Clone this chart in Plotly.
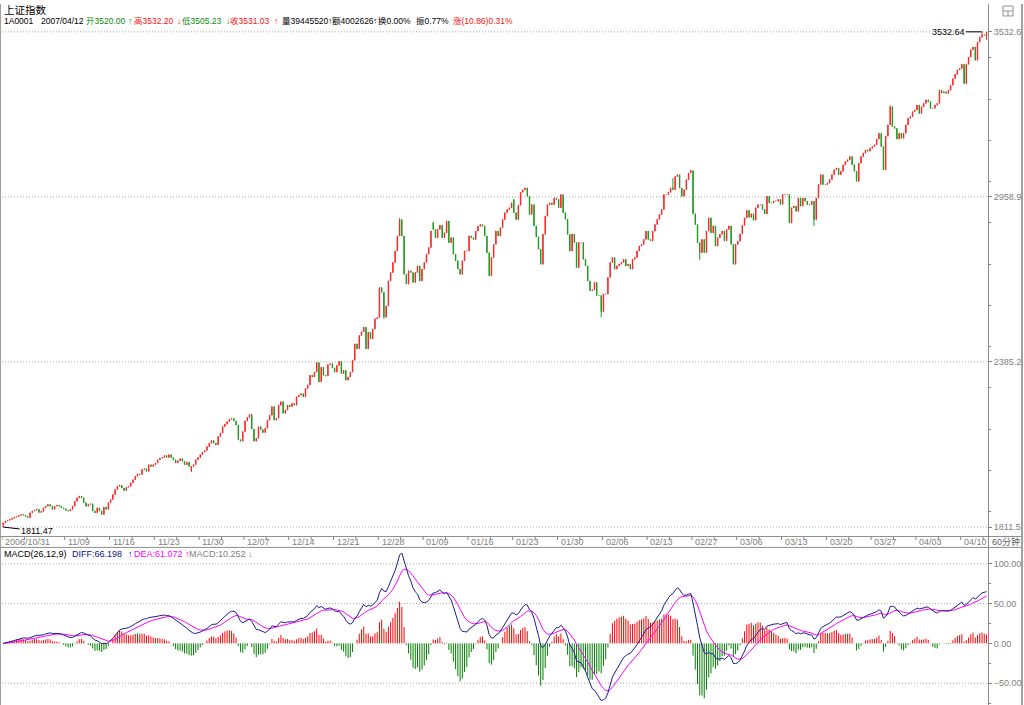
import numpy as np
import plotly.graph_objects as go

# ---------------- data (60-minute bars, 4 per trading day) ----------------
bars_per_day = 4
date_labels = ["2006/10/31", "11/09", "11/16", "11/23", "11/30", "12/07", "12/14",
               "12/21", "12/28", "01/09", "01/16", "01/23", "01/30", "02/06", "02/13",
               "02/27", "03/06", "03/13", "03/20", "03/27", "04/03", "04/10"]
date_label_day = [0, 7, 12, 17, 22, 27, 32, 37, 42, 47, 52, 57, 62, 67, 72, 77, 82,
                  87, 92, 97, 102, 107]

close_px = [
    1826, 1832, 1835, 1838, 1842, 1846, 1848, 1852, 1855, 1853, 1848, 1844,
    1861, 1867, 1870, 1873, 1862, 1866, 1878, 1884, 1890, 1884, 1873, 1884,
    1887, 1884, 1878, 1875, 1869, 1867, 1873, 1884, 1901, 1913, 1919, 1913,
    1896, 1884, 1890, 1892, 1867, 1861, 1878, 1867, 1855, 1881, 1873, 1896,
    1907, 1924, 1942, 1953, 1957, 1947, 1938, 1950, 1953, 1965, 1976, 1988,
    1996, 1994, 2011, 2014, 2005, 2028, 2022, 2028, 2034, 2045, 2051, 2053,
    2060, 2053, 2063, 2053, 2045, 2034, 2042, 2049, 2040, 2028, 2037, 2022,
    2022, 2028, 2045, 2053, 2063, 2072, 2078, 2091, 2103, 2112, 2103, 2097,
    2126, 2138, 2161, 2169, 2178, 2186, 2189, 2180, 2166, 2115, 2110, 2143,
    2180, 2192, 2203, 2152, 2110, 2120, 2160, 2150, 2140, 2155, 2183, 2200,
    2230, 2183, 2190, 2235, 2247, 2207, 2218, 2235, 2230, 2241, 2235, 2264,
    2270, 2275, 2264, 2293, 2305, 2339, 2333, 2350, 2383, 2316, 2367, 2339,
    2337, 2376, 2379, 2364, 2350, 2373, 2387, 2345, 2356, 2322, 2333, 2350,
    2391, 2448, 2431, 2477, 2490, 2506, 2431, 2489, 2466, 2500, 2535, 2540,
    2644, 2627, 2541, 2580, 2667, 2696, 2731, 2771, 2823, 2880, 2823, 2690,
    2656, 2702, 2696, 2662, 2696, 2719, 2667, 2708, 2731, 2760, 2783, 2840,
    2846, 2817, 2846, 2860, 2817, 2834, 2875, 2800, 2817, 2760, 2737, 2708,
    2690, 2737, 2771, 2771, 2823, 2817, 2811, 2840, 2857, 2863, 2857, 2823,
    2765, 2685, 2748, 2794, 2840, 2823, 2852, 2880, 2904, 2915, 2921, 2938,
    2904, 2880, 2930, 2975, 2984, 2990, 2961, 2898, 2932, 2858, 2820, 2777,
    2725, 2829, 2892, 2932, 2938, 2932, 2955, 2950, 2921, 2967, 2904, 2881,
    2829, 2771, 2830, 2800, 2713, 2800, 2800, 2742, 2719, 2667, 2633, 2636,
    2662, 2616, 2616, 2560, 2621, 2621, 2679, 2731, 2748, 2708, 2719, 2725,
    2731, 2742, 2719, 2725, 2708, 2742, 2748, 2771, 2788, 2794, 2811, 2840,
    2811, 2806, 2840, 2863, 2881, 2898, 2915, 2967, 2967, 2975, 2990, 2984,
    3030, 3036, 2990, 2961, 2984, 3019, 3042, 3050, 2900, 2863, 2800, 2765,
    2811, 2765, 2840, 2886, 2834, 2858, 2788, 2817, 2829, 2840, 2806, 2846,
    2858, 2794, 2725, 2794, 2805, 2830, 2860, 2886, 2912, 2888, 2900, 2878,
    2921, 2932, 2932, 2915, 2900, 2961, 2938, 2938, 2944, 2944, 2950, 2933,
    2967, 2967, 2967, 2869, 2921, 2927, 2909, 2955, 2927, 2955, 2944, 2932,
    2932, 2944, 2880, 2955, 3002, 3036, 3002, 3002, 3007, 3019, 3036, 3053,
    3059, 3036, 3048, 3070, 3082, 3088, 3099, 3071, 3048, 3013, 3076, 3099,
    3111, 3122, 3118, 3128, 3134, 3140, 3160, 3180, 3134, 3053, 3170, 3209,
    3272, 3203, 3197, 3160, 3180, 3163, 3180, 3209, 3232, 3238, 3255, 3261,
    3278, 3249, 3272, 3284, 3296, 3290, 3267, 3267, 3278, 3284, 3330, 3320,
    3324, 3319, 3330, 3347, 3370, 3385, 3400, 3405, 3420, 3353, 3420, 3445,
    3470, 3480, 3434, 3497, 3514, 3522, 3520, 3531.03,
]

open_px = [
    1820, 1826, 1832, 1835, 1838, 1842, 1846, 1848, 1852, 1855, 1853, 1848,
    1844, 1861, 1867, 1870, 1873, 1862, 1866, 1878, 1884, 1890, 1884, 1873,
    1884, 1887, 1884, 1878, 1875, 1869, 1867, 1873, 1884, 1901, 1913, 1919,
    1913, 1896, 1884, 1890, 1892, 1867, 1861, 1878, 1867, 1855, 1881, 1873,
    1896, 1907, 1924, 1942, 1953, 1957, 1947, 1938, 1950, 1953, 1965, 1976,
    1988, 1996, 1994, 2011, 2014, 2005, 2028, 2022, 2028, 2034, 2045, 2051,
    2053, 2060, 2053, 2063, 2053, 2045, 2034, 2042, 2049, 2040, 2028, 2037,
    2005, 2022, 2028, 2045, 2053, 2063, 2072, 2078, 2091, 2103, 2112, 2103,
    2097, 2126, 2138, 2161, 2169, 2178, 2186, 2189, 2180, 2166, 2115, 2110,
    2143, 2180, 2192, 2203, 2152, 2110, 2120, 2160, 2150, 2140, 2155, 2183,
    2200, 2230, 2183, 2190, 2235, 2247, 2207, 2218, 2235, 2230, 2241, 2235,
    2264, 2270, 2275, 2264, 2293, 2305, 2339, 2333, 2350, 2383, 2316, 2367,
    2339, 2337, 2376, 2379, 2364, 2350, 2373, 2387, 2345, 2356, 2322, 2333,
    2350, 2391, 2448, 2431, 2477, 2490, 2506, 2431, 2489, 2466, 2500, 2535,
    2540, 2644, 2627, 2541, 2580, 2667, 2696, 2731, 2771, 2823, 2880, 2823,
    2690, 2656, 2702, 2696, 2662, 2696, 2719, 2667, 2708, 2731, 2760, 2783,
    2870, 2846, 2817, 2846, 2860, 2817, 2834, 2875, 2800, 2817, 2760, 2737,
    2708, 2690, 2737, 2771, 2771, 2823, 2817, 2811, 2840, 2857, 2863, 2857,
    2823, 2765, 2685, 2748, 2794, 2840, 2823, 2852, 2880, 2904, 2915, 2921,
    2950, 2904, 2880, 2930, 2975, 2984, 2990, 2961, 2898, 2932, 2858, 2820,
    2777, 2725, 2829, 2892, 2932, 2938, 2932, 2955, 2950, 2921, 2967, 2904,
    2881, 2829, 2771, 2830, 2800, 2713, 2800, 2800, 2742, 2719, 2667, 2633,
    2636, 2662, 2616, 2616, 2560, 2621, 2621, 2679, 2731, 2748, 2708, 2719,
    2725, 2731, 2742, 2719, 2725, 2708, 2742, 2748, 2771, 2788, 2794, 2811,
    2840, 2811, 2806, 2840, 2863, 2881, 2898, 2915, 2967, 2967, 2975, 2990,
    2984, 3030, 3036, 2990, 2961, 2984, 3019, 3042, 3050, 2900, 2863, 2800,
    2765, 2811, 2765, 2840, 2886, 2834, 2858, 2788, 2817, 2829, 2840, 2806,
    2846, 2858, 2794, 2725, 2794, 2805, 2830, 2860, 2886, 2912, 2888, 2900,
    2878, 2921, 2932, 2932, 2915, 2900, 2961, 2938, 2938, 2944, 2944, 2950,
    2933, 2967, 2967, 2967, 2869, 2921, 2927, 2909, 2955, 2927, 2955, 2944,
    2932, 2932, 2944, 2880, 2955, 3002, 3036, 3002, 3002, 3007, 3019, 3036,
    3053, 3059, 3036, 3048, 3070, 3082, 3088, 3099, 3071, 3048, 3013, 3076,
    3099, 3111, 3122, 3118, 3128, 3134, 3140, 3160, 3180, 3134, 3053, 3170,
    3209, 3272, 3203, 3197, 3160, 3180, 3163, 3180, 3209, 3232, 3238, 3255,
    3261, 3278, 3249, 3272, 3284, 3296, 3290, 3267, 3267, 3278, 3284, 3330,
    3320, 3324, 3319, 3330, 3347, 3370, 3385, 3400, 3405, 3420, 3353, 3420,
    3445, 3470, 3480, 3434, 3497, 3514, 3522, 3520.00,
]

# extreme highs / lows (wick ends)
high_marks = {177: 2885, 299: 3024, 307: 3053, 396: 3277, 437: 3532.64, 439: 3532.20}
low_marks = {0: 1811.47, 170: 2535, 267: 2541, 311: 2740, 362: 2858, 439: 3505.23}

price_ticks = [1811.5, 2385.2, 2958.9, 3532.6]
macd_ticks = [-50, 0, 50, 100]
macd_grid = [-50, 50, 100]
macd_fast, macd_slow, macd_sig = 12, 26, 9

# ---------------- derived ----------------
n = len(close_px)
idx = np.arange(n)
o = np.array(open_px, float)
c = np.array(close_px, float)
hi = np.maximum(o, c)
lo = np.minimum(o, c)
for k, v in high_marks.items():
    hi[k] = v
for k, v in low_marks.items():
    lo[k] = v


def ema(x, span):
    a = 2.0 / (span + 1)
    out = np.empty_like(x)
    out[0] = x[0]
    for i in range(1, len(x)):
        out[i] = a * x[i] + (1 - a) * out[i - 1]
    return out


diff = ema(c, macd_fast) - ema(c, macd_slow)
dea = ema(diff, macd_sig)
hist = 2 * (diff - dea)

# ---------------- geometry (pixels) ----------------
W, H = 1024, 705
PX_L, PX_R = 2, 988
MAIN_TOP, MAIN_BOT = 27, 534
MACD_TOP, MACD_BOT = 547, 705


def py(p):
    return 1 - p / H


def px(p):
    return p / W


price_per_px = (price_ticks[-1] - price_ticks[0]) / (526 - 28)
main_range = [price_ticks[0] - (MAIN_BOT - 526) * price_per_px,
              price_ticks[-1] + (28 - MAIN_TOP) * price_per_px]
macd_per_px = 100 / (643 - 563)
macd_range = [-(MACD_BOT - 643) * macd_per_px, (643 - MACD_TOP) * macd_per_px]
bar_px = 2.24
x_range = [-0.5, -0.5 + (PX_R - PX_L) / bar_px]

RED = "#ff2424"
GREEN = "#209a20"
GRAY = "#808080"
NUMFONT = "Liberation Sans, Noto Sans CJK SC"

fig = go.Figure()

fig.add_trace(go.Candlestick(
    x=idx, open=o, high=hi, low=lo, close=c,
    increasing=dict(line=dict(color=RED, width=1), fillcolor=RED),
    decreasing=dict(line=dict(color=GREEN, width=1), fillcolor=GREEN),
    whiskerwidth=0, hoverinfo="skip", xaxis="x", yaxis="y", showlegend=False))

# MACD histogram as thin sticks
def sticks(mask):
    xs, ys = [], []
    for i in idx[mask]:
        xs += [i, i, None]
        ys += [0, hist[i], None]
    return xs, ys

xs, ys = sticks(hist >= 0)
fig.add_trace(go.Scatter(x=xs, y=ys, mode="lines", line=dict(color="#ff0000", width=1),
                         xaxis="x2", yaxis="y2", hoverinfo="skip", showlegend=False))
xs, ys = sticks(hist < 0)
fig.add_trace(go.Scatter(x=xs, y=ys, mode="lines", line=dict(color="#008000", width=1),
                         xaxis="x2", yaxis="y2", hoverinfo="skip", showlegend=False))
fig.add_trace(go.Scatter(x=idx, y=dea, mode="lines", line=dict(color="#ff00ff", width=1),
                         xaxis="x2", yaxis="y2", hoverinfo="skip", showlegend=False))
fig.add_trace(go.Scatter(x=idx, y=diff, mode="lines", line=dict(color="#1c1c8c", width=1),
                         xaxis="x2", yaxis="y2", hoverinfo="skip", showlegend=False))

axis_common = dict(showgrid=False, zeroline=False, fixedrange=True)
fig.update_layout(
    width=W, height=H, autosize=False,
    margin=dict(l=0, r=0, t=0, b=0),
    paper_bgcolor="white", plot_bgcolor="white",
    showlegend=False, boxgap=0.72,
    xaxis=dict(domain=[px(PX_L), px(PX_R)], range=x_range, showticklabels=False,
               ticks="", rangeslider=dict(visible=False), anchor="y", **axis_common),
    yaxis=dict(domain=[py(MAIN_BOT), py(MAIN_TOP)], range=main_range, side="right",
               tickmode="linear", tick0=price_ticks[0], dtick=price_ticks[1] - price_ticks[0],
               tickformat=".1f", ticks="outside", ticklen=3, tickcolor=GRAY,
               minor=dict(dtick=(price_ticks[1] - price_ticks[0]) / 4, ticks="outside",
                          ticklen=2, tickcolor=GRAY),
               tickfont=dict(family=NUMFONT, size=9, color=GRAY), anchor="x", **axis_common),
    xaxis2=dict(domain=[px(PX_L), px(PX_R)], range=x_range, showticklabels=False,
                ticks="", anchor="y2", **axis_common),
    yaxis2=dict(domain=[0, py(MACD_TOP)], range=macd_range, side="right",
                tickmode="array", tickvals=macd_ticks, tickformat=".2f",
                ticks="outside", ticklen=3, tickcolor=GRAY,
                minor=dict(dtick=25, ticks="outside", ticklen=2, tickcolor=GRAY),
                tickfont=dict(family=NUMFONT, size=9, color=GRAY), anchor="x2", **axis_common),
)

shapes = []
dot = "1px,2px"
for t in price_ticks:
    shapes.append(dict(type="line", xref="x", yref="y", x0=x_range[0], x1=x_range[1],
                       y0=t, y1=t, line=dict(color="#a8a8a8", width=1, dash=dot), layer="below"))
for t in macd_grid:
    shapes.append(dict(type="line", xref="x2", yref="y2", x0=x_range[0], x1=x_range[1],
                       y0=t, y1=t, line=dict(color="#a8a8a8", width=1, dash=dot), layer="below"))
# frame lines
frame = "#8c8c8c"
shapes += [
    dict(type="line", xref="paper", yref="paper", x0=px(988.5), x1=px(988.5), y0=0, y1=1,
         line=dict(color=frame, width=1)),
    dict(type="line", xref="paper", yref="paper", x0=px(0.5), x1=px(0.5), y0=0, y1=1,
         line=dict(color="#a0a0a0", width=1)),
    dict(type="line", xref="paper", yref="paper", x0=px(1022), x1=px(1022), y0=0, y1=1,
         line=dict(color="#a0a0a0", width=2)),
    dict(type="line", xref="paper", yref="paper", x0=0, x1=px(1021), y0=py(535.5), y1=py(535.5),
         line=dict(color=frame, width=1)),
    dict(type="line", xref="paper", yref="paper", x0=0, x1=px(1021), y0=py(546.5), y1=py(546.5),
         line=dict(color=frame, width=1)),
    # small window icon top-right
    dict(type="rect", xref="paper", yref="paper", x0=px(1003), x1=px(1013), y0=py(12), y1=py(2),
         line=dict(color="#909090", width=1), fillcolor="white"),
    dict(type="line", xref="paper", yref="paper", x0=px(1003), x1=px(1013), y0=py(7), y1=py(7),
         line=dict(color="#909090", width=1)),
    dict(type="line", xref="paper", yref="paper", x0=px(1008), x1=px(1008), y0=py(12), y1=py(7),
         line=dict(color="#909090", width=1)),
]
# date strip tick marks
for d in date_label_day:
    xb = d * bars_per_day - 0.5
    for off in (0, 2.5 * bars_per_day):
        shapes.append(dict(type="line", xref="x", yref="paper", x0=xb + off, x1=xb + off,
                           y0=py(539), y1=py(536), line=dict(color=GRAY, width=1)))
fig.update_layout(shapes=shapes)

ann = []


def text(s, x, y, color="black", size=9, family=NUMFONT, anchor="left"):
    ann.append(dict(text=s, x=px(x), y=py(y), xref="paper", yref="paper", xanchor=anchor,
                    yanchor="middle", showarrow=False,
                    font=dict(family=family, size=size, color=color)))


text("上证指数", 2, 6, size=10.5, family="Noto Sans CJK SC")
hdr_green, hdr_red = "#0a8a0a", "#ff1010"
header = [("1A0001", 2, "black"), ("2007/04/12", 39, "black"),
          ("开3520.00", 84, hdr_green), ("↑", 126, hdr_green),
          ("高3532.20", 132, hdr_red), ("↓", 175, hdr_red),
          ("低3505.23", 180, hdr_green), ("↓", 224, hdr_green),
          ("收3531.03", 228, hdr_red), ("↑", 272, hdr_red),
          ("量39445520", 280, "black"), ("↑", 326, "black"),
          ("额4002626", 330, "black"), ("↑", 371, "black"),
          ("换0.00%", 376, "black"), ("振0.77%", 414, "black"),
          ("涨(10.86)0.31%", 451, hdr_red)]
for s, x, col in header:
    text(s, x, 17.5, color=col, size=8.5)

macd_hdr = [("MACD(26,12,9)", 2, "black"), ("DIFF:66.198", 70, "#10108a"), ("↑", 126, "#10108a"),
            ("DEA:61.072", 132, "#ff00ff"), ("↑", 183, "#ff00ff"),
            ("MACD:10.252", 187, GRAY), ("↓", 246, GRAY)]
for s, x, col in macd_hdr:
    text(s, x, 553, color=col, size=9)

for lab, d in zip(date_labels, date_label_day):
    ann.append(dict(text=lab, x=d * bars_per_day - 0.5 + 0.6, y=py(541), xref="x", yref="paper",
                    xanchor="left", yanchor="middle", showarrow=False,
                    font=dict(family=NUMFONT, size=9, color=GRAY)))
text("60分钟", 990, 541, color="#606060", size=9)

# extreme markers
ann.append(dict(text="1811.47", x=0, y=low_marks[0], xref="x", yref="y", showarrow=True,
                arrowhead=0, arrowwidth=1, arrowcolor="black", ax=34, ay=4, standoff=0,
                font=dict(family=NUMFONT, size=9, color="black")))
ann.append(dict(text="3532.64", x=437, y=high_marks[437], xref="x", yref="y", showarrow=True,
                arrowhead=0, arrowwidth=1, arrowcolor="black", ax=-34, ay=0, standoff=0,
                font=dict(family=NUMFONT, size=9, color="black")))
fig.update_layout(annotations=ann)

fig.write_html("out.html")
